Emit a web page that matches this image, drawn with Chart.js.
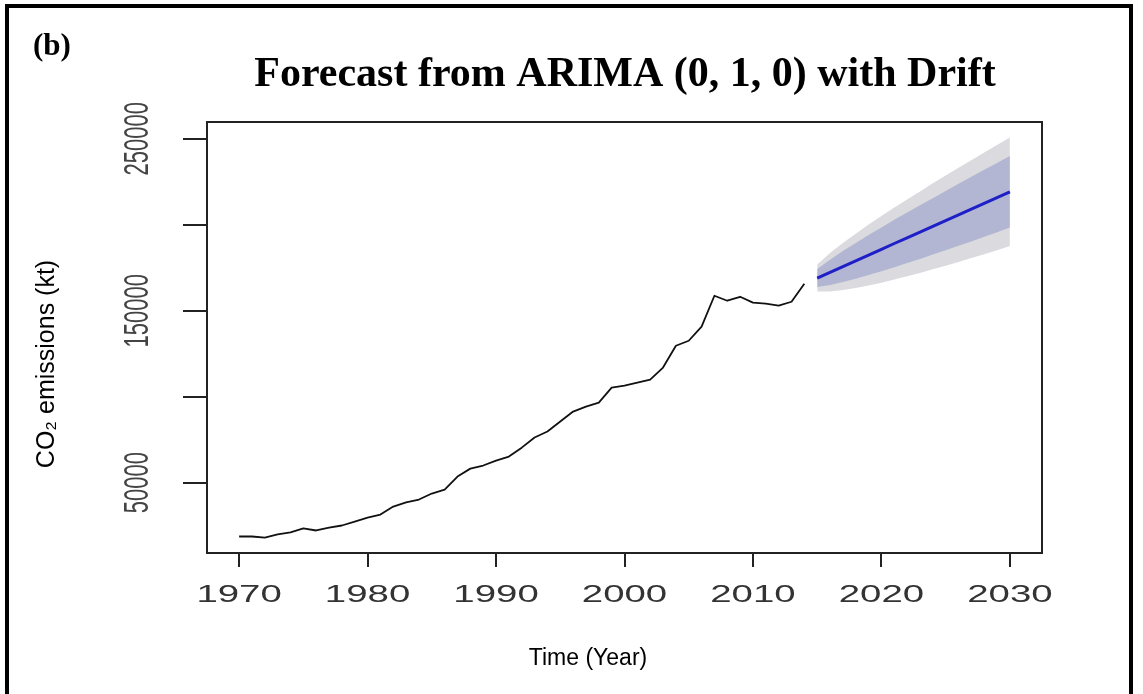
<!DOCTYPE html>
<html>
<head>
<meta charset="utf-8">
<script src="https://cdn.jsdelivr.net/npm/chart.js@4.4.1/dist/chart.umd.min.js"></script>
<style>
  html, body { margin: 0; padding: 0; background: #fff; }
  #wrap { position: relative; width: 1143px; height: 694px; overflow: hidden; }
  #frame { position: absolute; left: 5px; top: 4px; width: 1128px; height: 720px; border: 4px solid #000; box-sizing: border-box; }
  canvas { position: absolute; left: 0; top: 0; }
</style>
</head>
<body>
<div id="wrap">
  <canvas id="chart-1" width="1143" height="694"></canvas>
  <div id="frame"></div>
</div>
<script>
// observed CO2 emissions (kt)
const years = [1970, 1971, 1972, 1973, 1974, 1975, 1976, 1977, 1978, 1979,
  1980, 1981, 1982, 1983, 1984, 1985, 1986, 1987, 1988, 1989,
  1990, 1991, 1992, 1993, 1994, 1995, 1996, 1997, 1998, 1999,
  2000, 2001, 2002, 2003, 2004, 2005, 2006, 2007, 2008, 2009,
  2010, 2011, 2012, 2013, 2014];
const emissions = [18600, 18600, 18000, 19800, 21000, 23300, 22100, 23800, 25000, 27300,
  29600, 31400, 36000, 38400, 40100, 43600, 45900, 53500, 58100, 59900,
  62800, 65100, 70300, 76200, 79700, 85500, 91300, 94200, 96500, 105200,
  106400, 108100, 109900, 116900, 129600, 132500, 140700, 158700, 155800, 158100,
  154700, 154100, 152900, 155200, 165700];

// forecast
const fcYears = [2015, 2016, 2017, 2018, 2019, 2020, 2021, 2022,
  2023, 2024, 2025, 2026, 2027, 2028, 2029, 2030];
const fcMean = [169000, 172300, 175700, 179000, 182400, 185700, 189100, 192400,
  195700, 199100, 202400, 205800, 209100, 212500, 215800, 219200];
const lo80 = [163800, 164900, 166700, 168600, 170800, 173000, 175300, 177700,
  180100, 182700, 185200, 187800, 190300, 193000, 195700, 198400];
const hi80 = [174200, 179700, 184700, 189400, 194000, 198400, 202900, 207100,
  211300, 215500, 219600, 223800, 227900, 232000, 235900, 240000];
const lo95 = [161100, 161100, 162000, 163200, 164700, 166300, 168200, 170100,
  172000, 174100, 176200, 178400, 180600, 182900, 185200, 187600];
const hi95 = [176900, 183500, 189400, 194800, 200100, 205100, 210000, 214700,
  219400, 224100, 228600, 233200, 237600, 242100, 246400, 250800];

const xTicks = [1970, 1980, 1990, 2000, 2010, 2020, 2030];
const yTicks = [50000, 100000, 150000, 200000, 250000];
const yLabels = [50000, 150000, 250000];

const pts = (xs, ys) => xs.map((x, i) => ({ x: x, y: ys[i] }));

const lineDefaults = { pointRadius: 0, tension: 0, borderJoinStyle: 'round' };

const textPlugin = {
    id: 'texts',
    afterDraw(chart) {
        const ctx = chart.ctx;
        const area = chart.chartArea;
        const xs = chart.scales.x;
        const ys = chart.scales.y;

        // plot box
        ctx.save();
        ctx.strokeStyle = '#222';
        ctx.lineWidth = 2;
        ctx.strokeRect(area.left, area.top, area.right - area.left, area.bottom - area.top);
        ctx.restore();

        // x tick labels (stretched, like the source image)
        ctx.save();
        ctx.fillStyle = '#333';
        ctx.font = '24px "Liberation Sans", Arial, sans-serif';
        ctx.textAlign = 'center';
        ctx.textBaseline = 'middle';
        xs.ticks.forEach(t => {
            ctx.save();
            ctx.translate(xs.getPixelForValue(t.value), 595);
            ctx.scale(1.6, 1);
            ctx.fillText(String(t.value), 0, 0);
            ctx.restore();
        });
        ctx.restore();

        // y tick labels, rotated; R drops the ones that would overlap
        ctx.save();
        ctx.fillStyle = '#444';
        ctx.font = '22px "Liberation Sans", Arial, sans-serif';
        ctx.textAlign = 'center';
        ctx.textBaseline = 'middle';
        yLabels.forEach(v => {
            ctx.save();
            ctx.translate(138, ys.getPixelForValue(v));
            ctx.rotate(-Math.PI / 2);
            ctx.scale(1, 1.6);
            ctx.fillText(String(v), 0, 0);
            ctx.restore();
        });
        ctx.restore();

        ctx.save();
        ctx.fillStyle = '#000';
        ctx.textBaseline = 'alphabetic';
        ctx.font = 'bold 31px "Liberation Serif", "Times New Roman", serif';
        ctx.textAlign = 'left';
        ctx.fillText('(b)', 33, 55);
        ctx.font = 'bold 42px "Liberation Serif", "Times New Roman", serif';
        ctx.textAlign = 'center';
        ctx.fillText('Forecast from ARIMA (0, 1, 0) with Drift', 625, 86);

        ctx.font = '23px "Liberation Sans", Arial, sans-serif';
        ctx.textBaseline = 'middle';
        ctx.fillText('Time (Year)', 588, 659);
        ctx.font = '25px "Liberation Sans", Arial, sans-serif';
        ctx.translate(47, 364);
        ctx.rotate(-Math.PI / 2);
        ctx.fillText('CO\u2082 emissions (kt)', 0, 0);
        ctx.restore();
    }
};

const data = {
    datasets: [
        Object.assign({ label: 'Observed', data: pts(years, emissions), borderColor: '#111', borderWidth: 1.8 }, lineDefaults),
        Object.assign({ label: 'Forecast', data: pts(fcYears, fcMean), borderColor: '#1f1fc8', borderWidth: 3 }, lineDefaults),
        Object.assign({ label: 'Lo 80', data: pts(fcYears, lo80), borderWidth: 0, borderColor: 'rgba(0,0,0,0)' }, lineDefaults),
        Object.assign({ label: 'Hi 80', data: pts(fcYears, hi80), borderWidth: 0, borderColor: 'rgba(0,0,0,0)', fill: '-1', backgroundColor: '#b2b6d3' }, lineDefaults),
        Object.assign({ label: 'Lo 95', data: pts(fcYears, lo95), borderWidth: 0, borderColor: 'rgba(0,0,0,0)' }, lineDefaults),
        Object.assign({ label: 'Hi 95', data: pts(fcYears, hi95), borderWidth: 0, borderColor: 'rgba(0,0,0,0)', fill: '-1', backgroundColor: '#dadadf' }, lineDefaults)
    ]
};

const config = {
    type: 'line',
    data: data,
    options: {
        responsive: false,
        animation: false,
        layout: { padding: { left: 0, top: 122, right: 101, bottom: 0 } },
        plugins: {
            legend: { display: false },
            title: { display: false },
            tooltip: { enabled: false }
        },
        scales: {
            x: {
                type: 'linear',
                min: 1967.5,
                max: 2032.5,
                afterBuildTicks: s => { s.ticks = xTicks.map(v => ({ value: v })); },
                afterFit: s => { s.height = 141; },
                ticks: { display: false },
                border: { display: false },
                grid: { drawOnChartArea: false, drawTicks: true, tickLength: 14, color: '#222', lineWidth: 2 }
            },
            y: {
                type: 'linear',
                min: 9000,
                max: 259800,
                afterBuildTicks: s => { s.ticks = yTicks.map(v => ({ value: v })); },
                afterFit: s => { s.width = 207; },
                ticks: { display: false },
                border: { display: false },
                grid: { drawOnChartArea: false, drawTicks: true, tickLength: 24, color: '#222', lineWidth: 2 }
            }
        }
    },
    plugins: [textPlugin]
};

const ctx = document.getElementById('chart-1').getContext('2d');
new Chart(ctx, config);
</script>
</body>
</html>
